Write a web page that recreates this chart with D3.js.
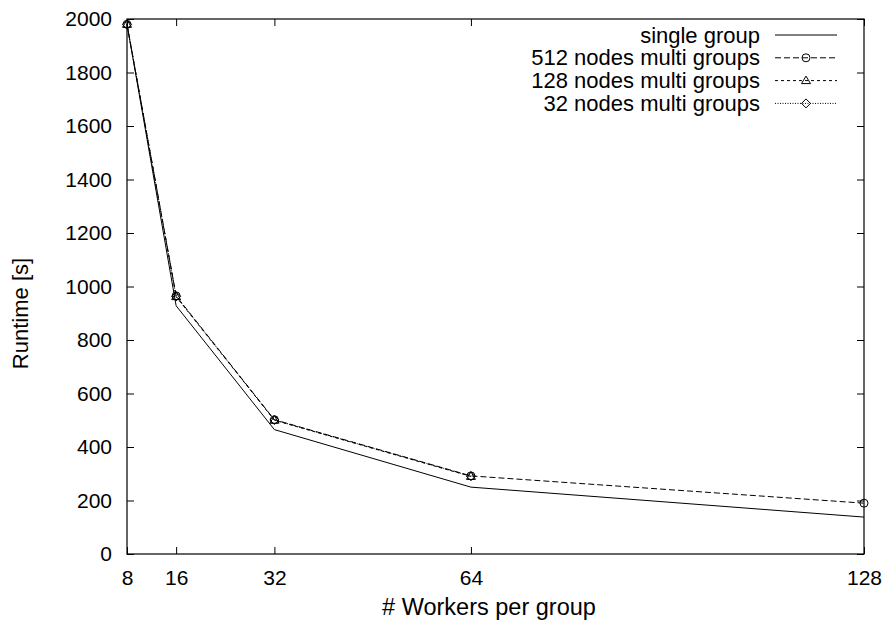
<!DOCTYPE html>
<html><head><meta charset="utf-8">
<script src="https://cdn.jsdelivr.net/npm/d3@7"></script>
<style>body{margin:0;background:#fff;} svg{display:block;} text{font-family:"Liberation Sans",Arial,sans-serif;fill:#000;}</style>
</head><body>
<svg id="c" width="888" height="626"></svg>
<script>
const workers = [8, 16, 32, 64, 128];
const singleGroup = [1980, 928, 465, 250, 138];
const multi512 = [1980, 965, 502, 292, 190];
const multi128 = [1980, 962, 500, 290];
const multi32 = [1980, 963, 501, 291];
const yTicks = [0, 200, 400, 600, 800, 1000, 1200, 1400, 1600, 1800, 2000];
const seriesNames = ["single group", "512 nodes multi groups", "128 nodes multi groups", "32 nodes multi groups"];

const FS = "22px", TFS = "21px", XFS = "23.5px";
const svg = d3.select("#c");
const L = 127, R = 864, T = 19, B = 554;
const x = d3.scaleLinear().domain([8, 128]).range([L, R]);
const y = d3.scaleLinear().domain([0, 2000]).range([B, T]);

const axL = d3.axisLeft(y).tickValues(yTicks).tickFormat(d3.format("d")).tickSizeInner(-7).tickSizeOuter(0).tickPadding(15);
const axR = d3.axisRight(y).tickValues(yTicks).tickSizeInner(-7).tickSizeOuter(0).tickFormat("");
const axB = d3.axisBottom(x).tickValues(workers).tickFormat(d3.format("d")).tickSizeInner(-7).tickSizeOuter(0).tickPadding(16);
const axT = d3.axisTop(x).tickValues(workers).tickSizeInner(-7).tickSizeOuter(0).tickFormat("");

function style(g){ g.select(".domain").remove(); g.selectAll("line").attr("stroke","#000").attr("stroke-width",1); g.selectAll("text").style("font-size",TFS).style("font-family","'Liberation Sans',Arial,sans-serif").attr("fill","#000"); }
svg.append("g").attr("transform",`translate(${L},0)`).call(axL).call(style);
svg.append("g").attr("transform",`translate(${R},0)`).call(axR).call(style);
svg.append("g").attr("transform",`translate(0,${B})`).call(axB).call(style);
svg.append("g").attr("transform",`translate(0,${T})`).call(axT).call(style);
svg.append("rect").attr("x",L).attr("y",T).attr("width",R-L).attr("height",B-T).attr("fill","none").attr("stroke","#000").attr("stroke-width",1.2);

svg.append("text").attr("transform",`translate(28,${(T+B)/2 + 27}) rotate(-90)`).attr("text-anchor","middle").style("font-size",FS).text("Runtime [s]");
svg.append("text").attr("x",489).attr("y",615).attr("text-anchor","middle").style("font-size",XFS).text("# Workers per group");

const series = [
  {name: seriesNames[0], vals: singleGroup, dash: null, marker: null},
  {name: seriesNames[1], vals: multi512, dash: "6,3", marker: "circle"},
  {name: seriesNames[2], vals: multi128, dash: "3,3", marker: "triangle"},
  {name: seriesNames[3], vals: multi32, dash: "1,1.5", marker: "diamond"}
];

const line = d3.line().x(d => x(d[0])).y(d => y(d[1]));
function drawMarker(g, type, cx, cy){
  if(type === "circle") g.append("circle").attr("cx",cx).attr("cy",cy).attr("r",4).attr("fill","none").attr("stroke","#000").attr("stroke-width",1);
  else if(type === "triangle") g.append("path").attr("d",`M${cx},${cy-4.5}L${cx+4.5},${cy+3}L${cx-4.5},${cy+3}Z`).attr("fill","none").attr("stroke","#000").attr("stroke-width",1);
  else if(type === "diamond") g.append("path").attr("d",`M${cx},${cy-4.5}L${cx+4.5},${cy}L${cx},${cy+4.5}L${cx-4.5},${cy}Z`).attr("fill","none").attr("stroke","#000").attr("stroke-width",1);
}

series.forEach(s => {
  const pts = s.vals.map((v,i) => [workers[i], v]);
  const p = svg.append("path").datum(pts).attr("d", line).attr("fill","none").attr("stroke","#000").attr("stroke-width",1);
  if(s.dash) p.attr("stroke-dasharray", s.dash);
  if(s.marker){ const g = svg.append("g"); pts.forEach(d => drawMarker(g, s.marker, x(d[0]), y(d[1]))); }
});

series.forEach((s,i) => {
  const ly = 35 + i*22.8;
  svg.append("text").attr("x",760).attr("y",ly+7.5).attr("text-anchor","end").style("font-size",FS).text(s.name);
  const l = svg.append("line").attr("x1",775).attr("x2",837).attr("y1",ly).attr("y2",ly).attr("stroke","#000").attr("stroke-width",1);
  if(s.dash) l.attr("stroke-dasharray", s.dash);
  if(s.marker) drawMarker(svg.append("g"), s.marker, 806, ly);
});
</script>
</body></html>
